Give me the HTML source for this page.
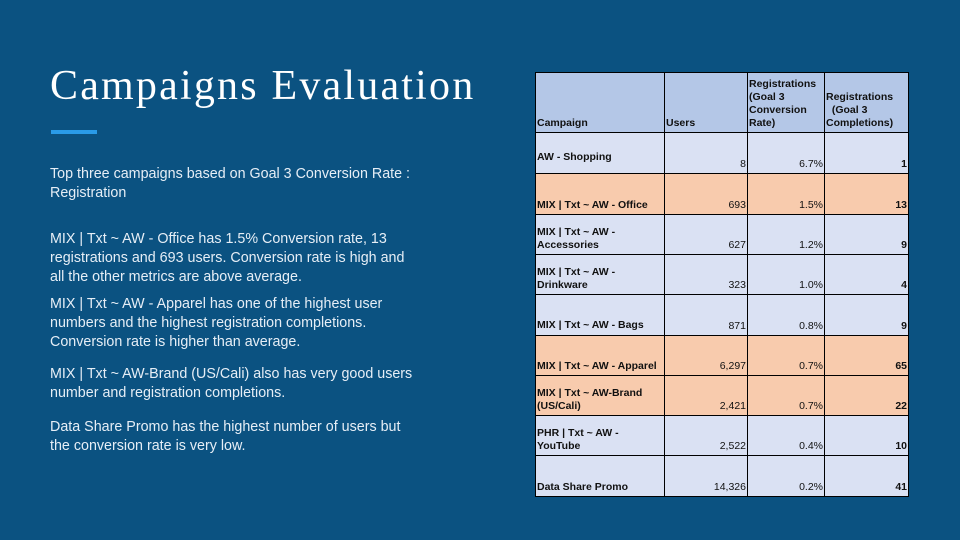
<!DOCTYPE html>
<html><head><meta charset="utf-8"><style>
body{margin:0;width:960px;height:540px;background:#0b5281;position:relative;overflow:hidden;font-family:"Liberation Sans",Arial,sans-serif}
.t{position:absolute;left:50px;top:62px;font-family:"Liberation Serif",serif;font-size:42px;color:#fff;letter-spacing:2.2px;white-space:nowrap}
.bar{position:absolute;left:51px;top:130px;width:46px;height:4px;background:#2a9be8}
.p{position:absolute;left:50px;color:#e6eef6;font-size:14.3px;line-height:19px;white-space:nowrap}
table{position:absolute;left:535px;top:72px;border-collapse:collapse;table-layout:fixed}
td{border:1px solid #000;font-size:10.5px;color:#111;vertical-align:bottom;padding:0 1px 2px 1px;line-height:13px}
tr.h td{background:#b4c7e7;font-weight:bold;height:57px}
tr.l td{background:#dae1f3}
tr.o td{background:#f8cbad}
td.n{text-align:right}
td.b{font-weight:bold}
</style></head><body>
<div class="t">Campaigns Evaluation</div>
<div class="bar"></div>
<div class="p" style="top:165px">Top three campaigns based on Goal 3 Conversion Rate :<br>Registration</div>
<div class="p" style="top:230px">MIX | Txt ~ AW - Office has 1.5% Conversion rate, 13<br>registrations and 693 users. Conversion rate is high and<br>all the other metrics are above average.</div>
<div class="p" style="top:295px">MIX | Txt ~ AW - Apparel has one of the highest user<br>numbers and the highest registration completions.<br>Conversion rate is higher than average.</div>
<div class="p" style="top:365px">MIX | Txt ~ AW-Brand (US/Cali) also has very good users<br>number and registration completions.</div>
<div class="p" style="top:418px">Data Share Promo has the highest number of users but<br>the conversion rate is very low.</div>
<table>
<colgroup><col style="width:129px"><col style="width:83px"><col style="width:77px"><col style="width:84px"></colgroup>
<tr class="h"><td>Campaign</td><td>Users</td><td>Registrations<br>(Goal 3<br>Conversion<br>Rate)</td><td>Registrations<br>&nbsp;&nbsp;(Goal 3<br>Completions)</td></tr>
<tr class="l" style="height:41px"><td class="b" style="padding-bottom:9px">AW - Shopping</td><td class="n">8</td><td class="n">6.7%</td><td class="n b">1</td></tr>
<tr class="o" style="height:41px"><td class="b">MIX | Txt ~ AW - Office</td><td class="n">693</td><td class="n">1.5%</td><td class="n b">13</td></tr>
<tr class="l" style="height:40px"><td class="b">MIX | Txt ~ AW -<br>Accessories</td><td class="n">627</td><td class="n">1.2%</td><td class="n b">9</td></tr>
<tr class="l" style="height:40px"><td class="b">MIX | Txt ~ AW -<br>Drinkware</td><td class="n">323</td><td class="n">1.0%</td><td class="n b">4</td></tr>
<tr class="l" style="height:41px"><td class="b" style="padding-bottom:3px">MIX | Txt ~ AW - Bags</td><td class="n">871</td><td class="n">0.8%</td><td class="n b">9</td></tr>
<tr class="o" style="height:40px"><td class="b">MIX | Txt ~ AW - Apparel</td><td class="n">6,297</td><td class="n">0.7%</td><td class="n b">65</td></tr>
<tr class="o" style="height:40px"><td class="b">MIX | Txt ~ AW-Brand<br>(US/Cali)</td><td class="n">2,421</td><td class="n">0.7%</td><td class="n b">22</td></tr>
<tr class="l" style="height:40px"><td class="b">PHR | Txt ~ AW -<br>YouTube</td><td class="n">2,522</td><td class="n">0.4%</td><td class="n b">10</td></tr>
<tr class="l" style="height:41px"><td class="b">Data Share Promo</td><td class="n">14,326</td><td class="n">0.2%</td><td class="n b">41</td></tr>
</table>
</body></html>
